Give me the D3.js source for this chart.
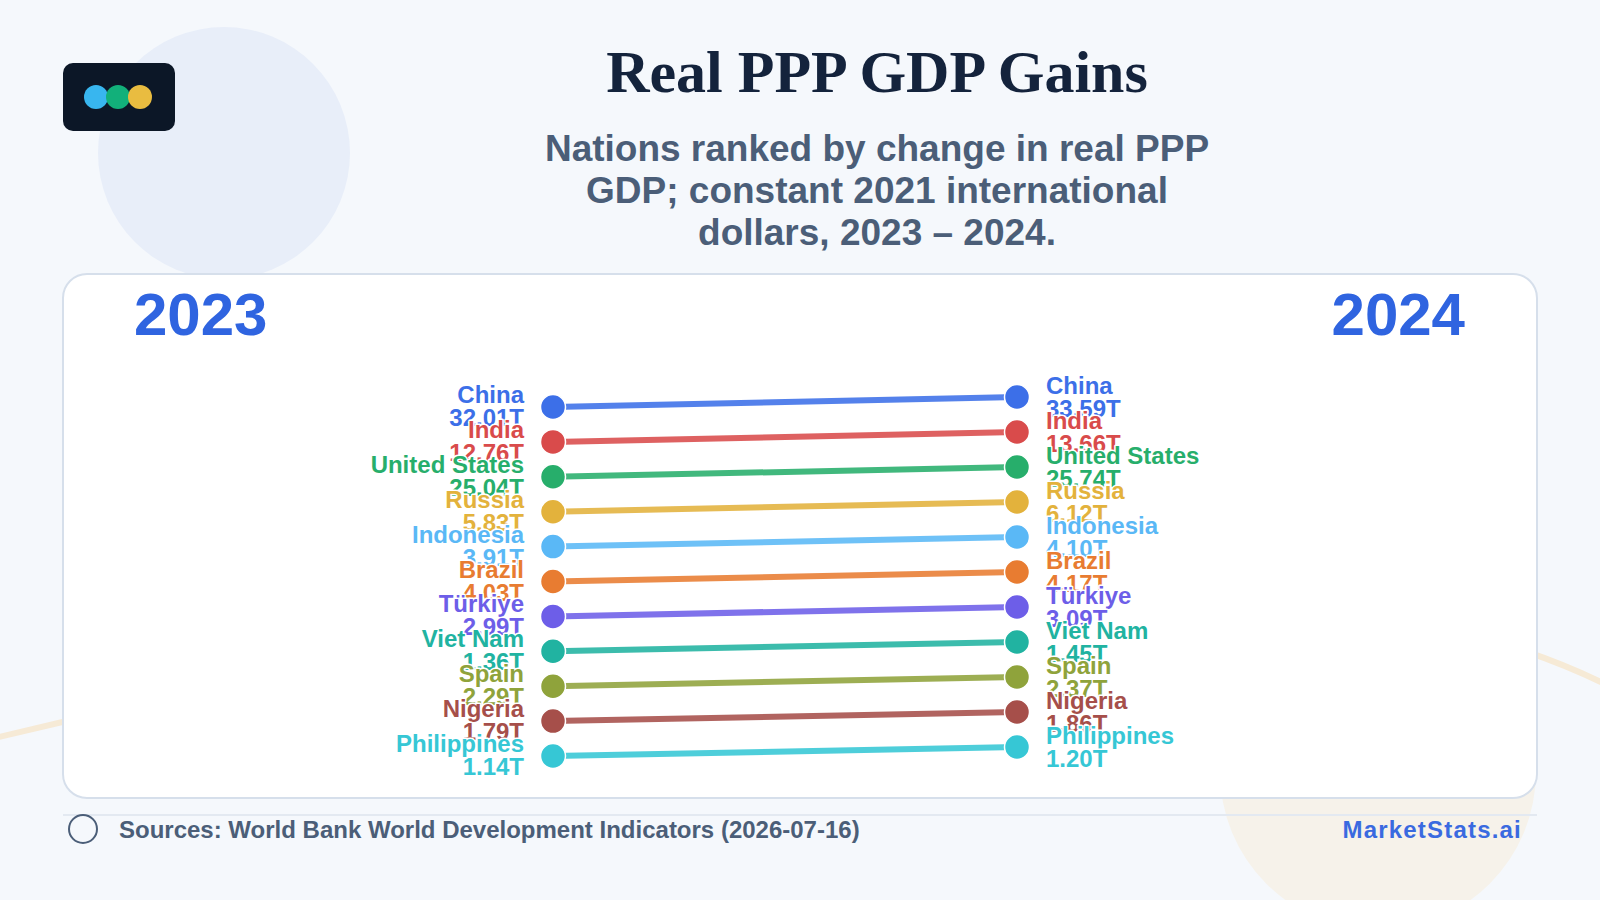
<!DOCTYPE html>
<html>
<head>
<meta charset="utf-8" />
<title>Real PPP GDP Gains | D3</title>
<style>
body {
  margin: 0;
  background: #f5f8fc;
  font-family: "Liberation Sans", Arial, sans-serif;
}
.lbl {
  font-weight: bold;
  font-size: 24px;
  paint-order: stroke;
  stroke: #fff;
  stroke-width: 3px;
  stroke-linejoin: round;
}
</style>
<script src="https://cdn.jsdelivr.net/npm/d3@7"></script>
</head>
<body>
<script>
// data, ranked by change 2023 -> 2024 (trillions, constant 2021 intl $)
var countries = ["China","India","United States","Russia","Indonesia","Brazil","Türkiye","Viet Nam","Spain","Nigeria","Philippines"];
var val2023 = [32.01,12.76,25.04,5.83,3.91,4.03,2.99,1.36,2.29,1.79,1.14];
var val2024 = [33.59,13.66,25.74,6.12,4.10,4.17,3.09,1.45,2.37,1.86,1.20];
var colors = ["#3c6fe8","#d94b4b","#27ae6b","#e3b23c","#5ab8f6","#e87c31","#6d5ee8","#21b3a1","#8fa33b","#a64f4a","#36c7d5"];
var years = ["2023","2024"];
var subtitle = ["Nations ranked by change in real PPP","GDP; constant 2021 international","dollars, 2023 – 2024."];

var width = 1600;
var height = 900;

var svg = d3.select("body")
  .append("svg")
  .attr("width", width)
  .attr("height", height);

// background decoration
var bg = svg.append("g");
bg.append("rect").attr("width", width).attr("height", height).attr("fill", "#f5f8fc");
bg.append("circle").attr("cx", 224).attr("cy", 153).attr("r", 126).attr("fill", "#e8eef9");
bg.append("circle").attr("cx", 1378).attr("cy", 772).attr("r", 158).attr("fill", "#f6f2ea");
bg.append("path")
  .attr("d", "M-5,738 C480,620 1230,500 1605,684")
  .attr("fill", "none")
  .attr("stroke", "#f6ead6")
  .attr("stroke-width", 6);

// logo
var logo = svg.append("g");
logo.append("rect")
  .attr("x", 63).attr("y", 63).attr("width", 112).attr("height", 68).attr("rx", 10)
  .attr("fill", "#0c1727");
logo.selectAll("circle")
  .data(["#38b6ef","#12b07a","#e9bc40"])
  .enter().append("circle")
  .attr("cx", function(d, i){ return 96 + i * 22; })
  .attr("cy", 97)
  .attr("r", 12)
  .attr("fill", function(d){ return d; });

// titles
svg.append("text")
  .attr("x", 877).attr("y", 92)
  .attr("text-anchor", "middle")
  .attr("font-family", "'Liberation Serif', 'Times New Roman', serif")
  .attr("font-weight", "bold")
  .attr("font-size", 60)
  .attr("fill", "#14233c")
  .text("Real PPP GDP Gains");

svg.append("g").selectAll("text")
  .data(subtitle)
  .enter().append("text")
  .attr("x", 877)
  .attr("y", function(d, i){ return 161 + i * 42; })
  .attr("text-anchor", "middle")
  .attr("font-weight", "bold")
  .attr("font-size", 37)
  .attr("fill", "#4b5e78")
  .text(function(d){ return d; });

// card
svg.append("rect")
  .attr("x", 63).attr("y", 274).attr("width", 1474).attr("height", 524).attr("rx", 24)
  .attr("fill", "#fff")
  .attr("stroke", "#d6dfeb")
  .attr("stroke-width", 2);

// year headers
svg.append("text")
  .attr("x", 134).attr("y", 335)
  .attr("font-weight", "bold").attr("font-size", 60).attr("fill", "#2f64e0")
  .text(years[0]);
svg.append("text")
  .attr("x", 1465).attr("y", 335)
  .attr("text-anchor", "end")
  .attr("font-weight", "bold").attr("font-size", 60).attr("fill", "#2f64e0")
  .text(years[1]);

// scales
var x = d3.scalePoint().domain(years).range([553, 1017]);
var yLeft = d3.scalePoint().domain(countries).range([407, 756]);
var yRight = d3.scalePoint().domain(countries).range([397, 747]);

var rows = countries.map(function(c, i){
  return { name: c, a: val2023[i], b: val2024[i], color: colors[i] };
});

var fmt = function(v){ return v.toFixed(2) + "T"; };

var chart = svg.append("g");

chart.selectAll("line")
  .data(rows)
  .enter().append("line")
  .attr("x1", x("2023"))
  .attr("x2", x("2024"))
  .attr("y1", function(d){ return yLeft(d.name); })
  .attr("y2", function(d){ return yRight(d.name); })
  .attr("stroke", function(d){ return d.color; })
  .attr("stroke-opacity", 0.88)
  .attr("stroke-width", 6);

var row = chart.selectAll("g.row")
  .data(rows)
  .enter().append("g")
  .attr("class", "row");

row.append("circle")
  .attr("cx", x("2023"))
  .attr("cy", function(d){ return yLeft(d.name); })
  .attr("r", 12.5)
  .attr("fill", function(d){ return d.color; })
  .attr("stroke", "#fff").attr("stroke-width", 1.5);

row.append("circle")
  .attr("cx", x("2024"))
  .attr("cy", function(d){ return yRight(d.name); })
  .attr("r", 12.5)
  .attr("fill", function(d){ return d.color; })
  .attr("stroke", "#fff").attr("stroke-width", 1.5);

// left labels
var lt = row.append("text")
  .attr("class", "lbl")
  .attr("text-anchor", "end")
  .attr("fill", function(d){ return d.color; });
lt.append("tspan")
  .attr("x", x("2023") - 29)
  .attr("y", function(d){ return yLeft(d.name) - 4; })
  .text(function(d){ return d.name; });
lt.append("tspan")
  .attr("x", x("2023") - 29)
  .attr("y", function(d){ return yLeft(d.name) + 19; })
  .text(function(d){ return fmt(d.a); });

// right labels
var rt = row.append("text")
  .attr("class", "lbl")
  .attr("fill", function(d){ return d.color; });
rt.append("tspan")
  .attr("x", x("2024") + 29)
  .attr("y", function(d){ return yRight(d.name) - 3; })
  .text(function(d){ return d.name; });
rt.append("tspan")
  .attr("x", x("2024") + 29)
  .attr("y", function(d){ return yRight(d.name) + 20; })
  .text(function(d){ return fmt(d.b); });

// footer
svg.append("line")
  .attr("x1", 63).attr("x2", 1537).attr("y1", 815).attr("y2", 815)
  .attr("stroke", "#e3e9f1").attr("stroke-width", 2);
svg.append("circle")
  .attr("cx", 83).attr("cy", 829).attr("r", 14)
  .attr("fill", "none").attr("stroke", "#4b5e78").attr("stroke-width", 2);
svg.append("text")
  .attr("x", 119).attr("y", 838)
  .attr("font-weight", "bold").attr("font-size", 24).attr("fill", "#4b5e78")
  .text("Sources: World Bank World Development Indicators (2026-07-16)");
svg.append("text")
  .attr("x", 1522).attr("y", 838)
  .attr("text-anchor", "end")
  .attr("font-weight", "bold").attr("font-size", 24).attr("letter-spacing", 1.2)
  .attr("fill", "#3a6ae0")
  .text("MarketStats.ai");
</script>
</body>
</html>
